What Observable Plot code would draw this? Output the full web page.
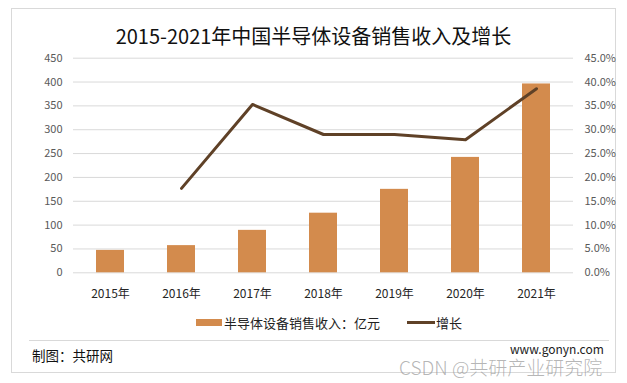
<!DOCTYPE html>
<html>
<head>
<meta charset="utf-8">
<script src="https://cdn.jsdelivr.net/npm/d3@7"></script>
<script src="https://cdn.jsdelivr.net/npm/@observablehq/plot@0.6"></script>
<style>
  body { margin: 0; background: #fff; }
  #wrap { position: relative; width: 627px; height: 383px; overflow: hidden; font-family: "Noto Sans CJK SC", "Noto Sans", sans-serif; }
  #wrap svg { position: absolute; left: 0; top: 0; }
  .abs { position: absolute; white-space: nowrap; }
</style>
</head>
<body>
<div id="wrap">
  <div class="abs" style="left:11px;top:8px;width:603px;height:363px;border:1px solid #d9d9d9;"></div>
  <div class="abs" style="left:29px;top:340px;width:580px;height:1px;background:#d9d9d9;"></div>
  <div id="chart"></div>
  <div class="abs" style="left:0;width:627px;top:22px;text-align:center;font-size:20px;color:#111;line-height:28px;">2015-2021年中国半导体设备销售收入及增长</div>
  <div class="abs" style="left:196px;top:319px;width:26px;height:7px;background:#D38B4D;"></div>
  <div class="abs" style="left:224px;top:314px;font-size:13px;line-height:18px;color:#222;">半导体设备销售收入：亿元</div>
  <div class="abs" style="left:407px;top:321px;width:28px;height:3px;background:#5F4127;"></div>
  <div class="abs" style="left:436px;top:314px;font-size:13px;line-height:18px;color:#222;">增长</div>
  <div class="abs" style="left:32px;top:346px;font-size:13.5px;line-height:18px;color:#111;">制图：共研网</div>
  <div class="abs" style="left:510px;top:341px;font-size:12px;line-height:15px;color:#222;">www.gonyn.com</div>
  <div class="abs" style="left:399px;top:356px;font-size:19px;line-height:22px;color:rgba(150,150,150,0.7);font-weight:300;">CSDN @共研产业研究院</div>
</div>
<script>
const years = ["2015年", "2016年", "2017年", "2018年", "2019年", "2020年", "2021年"];
const revenue = [47, 57, 89, 125, 175, 242, 396];
const growth = [null, 17.7, 35.3, 29.0, 29.0, 27.9, 38.6];
const leftTicks = [0, 50, 100, 150, 200, 250, 300, 350, 400, 450];
const rightTicks = [0, 5, 10, 15, 20, 25, 30, 35, 40, 45];

const rows = years.map((y, i) => ({year: y, revenue: revenue[i], growth: growth[i]}));
const lineRows = rows.filter(d => d.growth != null);

const chart = Plot.plot({
  width: 627,
  height: 383,
  marginLeft: 73,
  marginRight: 54,
  marginTop: 57.7,
  marginBottom: 110.7,
  style: {fontFamily: "'Noto Sans CJK SC', 'Noto Sans', sans-serif", fontSize: "11px", color: "#595959", background: "transparent"},
  x: {domain: years, paddingInner: 0.6, paddingOuter: 0.3, label: null},
  y: {domain: [0, 450], label: null},
  marks: [
    Plot.gridY(leftTicks, {stroke: "#d9d9d9", strokeOpacity: 1}),
    Plot.axisY(leftTicks, {anchor: "left", tickSize: 0, tickPadding: 11, label: null, fill: "#595959"}),
    Plot.axisY(rightTicks.map(d => d * 10), {anchor: "right", tickSize: 0, tickPadding: 11, label: null, fill: "#595959", tickFormat: d => (d / 10).toFixed(1) + "%"}),
    Plot.axisX({tickSize: 0, tickPadding: 17, fontSize: 12, fill: "#262626", label: null}),
    Plot.barY(rows, {x: "year", y: "revenue", fill: "#D38B4D"}),
    Plot.line(lineRows, {x: "year", y: d => d.growth * 10, stroke: "#5F4127", strokeWidth: 3})
  ]
});
document.getElementById("chart").appendChild(chart);
</script>
</body>
</html>
